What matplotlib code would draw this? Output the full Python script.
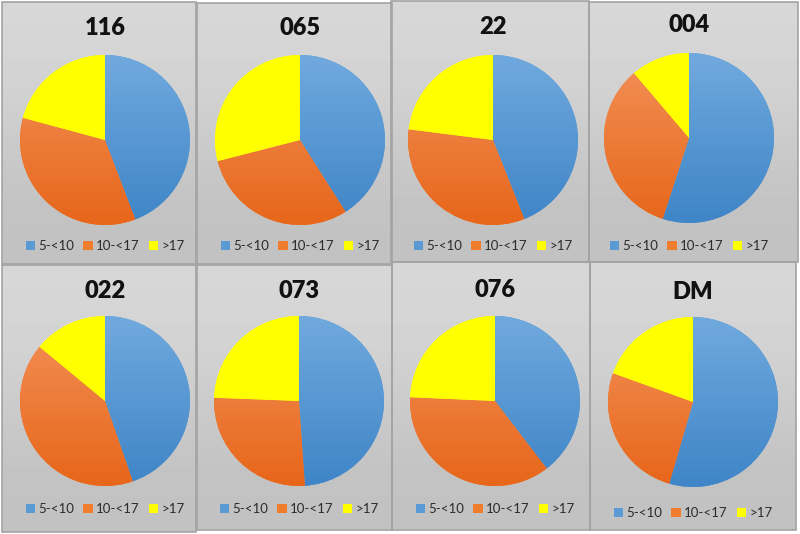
import numpy as np
import matplotlib.pyplot as plt
from matplotlib.patches import Rectangle, Patch
from matplotlib.colors import LinearSegmentedColormap

# data: share of each band per chart (clockwise from 12 o'clock)
titles = ["116", "065", "22", "004", "022", "073", "076", "DM"]
band_labels = ["5-<10", "10-<17", ">17"]
band_5_10 = [44.2, 41.0, 44.0, 55.0, 44.7, 48.9, 39.6, 54.5]
band_10_17 = [35.0, 30.0, 33.0, 33.8, 41.3, 26.7, 36.1, 26.0]
band_17 = [20.8, 29.0, 23.0, 11.2, 14.0, 24.4, 24.3, 19.5]
colors = ["#5b9bd5", "#f07d2e", "#ffff00"]
# light (top) / dark (bottom) ends of the excel-style gradient fills
grad_top = ["#70a9de", "#f39158", "#ffff00"]
grad_bottom = ["#3f85c7", "#e7661a", "#ffff00"]

W, H = 800, 534
# panel boxes in pixels (x0, y0, x1, y1), top-left origin
panels = [(2, 2, 196, 264), (197, 3, 392, 264), (391, 1, 589, 262), (589, 2, 798, 262),
          (2, 265, 196, 532), (197, 265, 392, 530), (392, 262, 590, 530), (590, 262, 796, 530)]
pie_centers = [(105, 140), (300, 140), (493, 140), (689, 138),
               (105, 401), (299, 401), (495, 401), (693, 402)]
title_y = [28, 28, 27, 25, 291, 291, 290, 292]
legend_y = [246, 246, 246, 246, 509, 509, 509, 513]
R = 85

fig = plt.figure(figsize=(W / 100, H / 100), dpi=100)
fig.patch.set_facecolor("white")


def fx(x):
    return x / W


def fy(y):
    return 1 - y / H


bg = fig.add_axes([0, 0, 1, 1])
bg.set_xlim(0, W)
bg.set_ylim(H, 0)
bg.axis("off")

grad = np.linspace(0, 1, 64).reshape(-1, 1)

for i in range(8):
    x0, y0, x1, y1 = panels[i]
    # gray gradient background
    bg.imshow([[0.845], [0.755]], cmap="gray", vmin=0, vmax=1, aspect="auto",
              extent=(x0, x1, y1, y0), interpolation="bicubic", zorder=1)
    bg.add_patch(Rectangle((x0, y0), x1 - x0, y1 - y0, fill=False,
                           edgecolor="#a3a3a3", linewidth=1.2, zorder=2))

    cx, cy = pie_centers[i]
    ax = fig.add_axes([fx(cx - R), fy(cy + R), 2 * R / W, 2 * R / H])
    vals = [band_5_10[i], band_10_17[i], band_17[i]]
    wedges, _ = ax.pie(vals, colors=colors, startangle=90, counterclock=False,
                       wedgeprops=dict(linewidth=0))
    for w, top, bot in zip(wedges, grad_top, grad_bottom):
        cmap = LinearSegmentedColormap.from_list("g", [bot, top])
        im = ax.imshow(grad, cmap=cmap, origin="lower", extent=(-1, 1, -1, 1),
                       aspect="auto", zorder=3)
        im.set_clip_path(w)
    ax.set_xlim(-1, 1)
    ax.set_ylim(-1, 1)
    ax.axis("off")

    fig.text(fx(cx), fy(title_y[i]), titles[i], ha="center", va="center",
             fontsize=17, fontweight="heavy", family="Lato", color="#111111")

    handles = [Patch(facecolor=c, edgecolor="none") for c in colors]
    fig.legend(handles, band_labels, loc="center", ncol=3, frameon=False,
               bbox_to_anchor=(fx(cx), fy(legend_y[i])),
               prop=dict(family="Lato", size=9.5), labelcolor="#2b2b2b",
               handlelength=0.7, handleheight=0.7, handletextpad=0.25,
               columnspacing=0.7, borderpad=0)

fig.savefig("out.png", dpi=100)
